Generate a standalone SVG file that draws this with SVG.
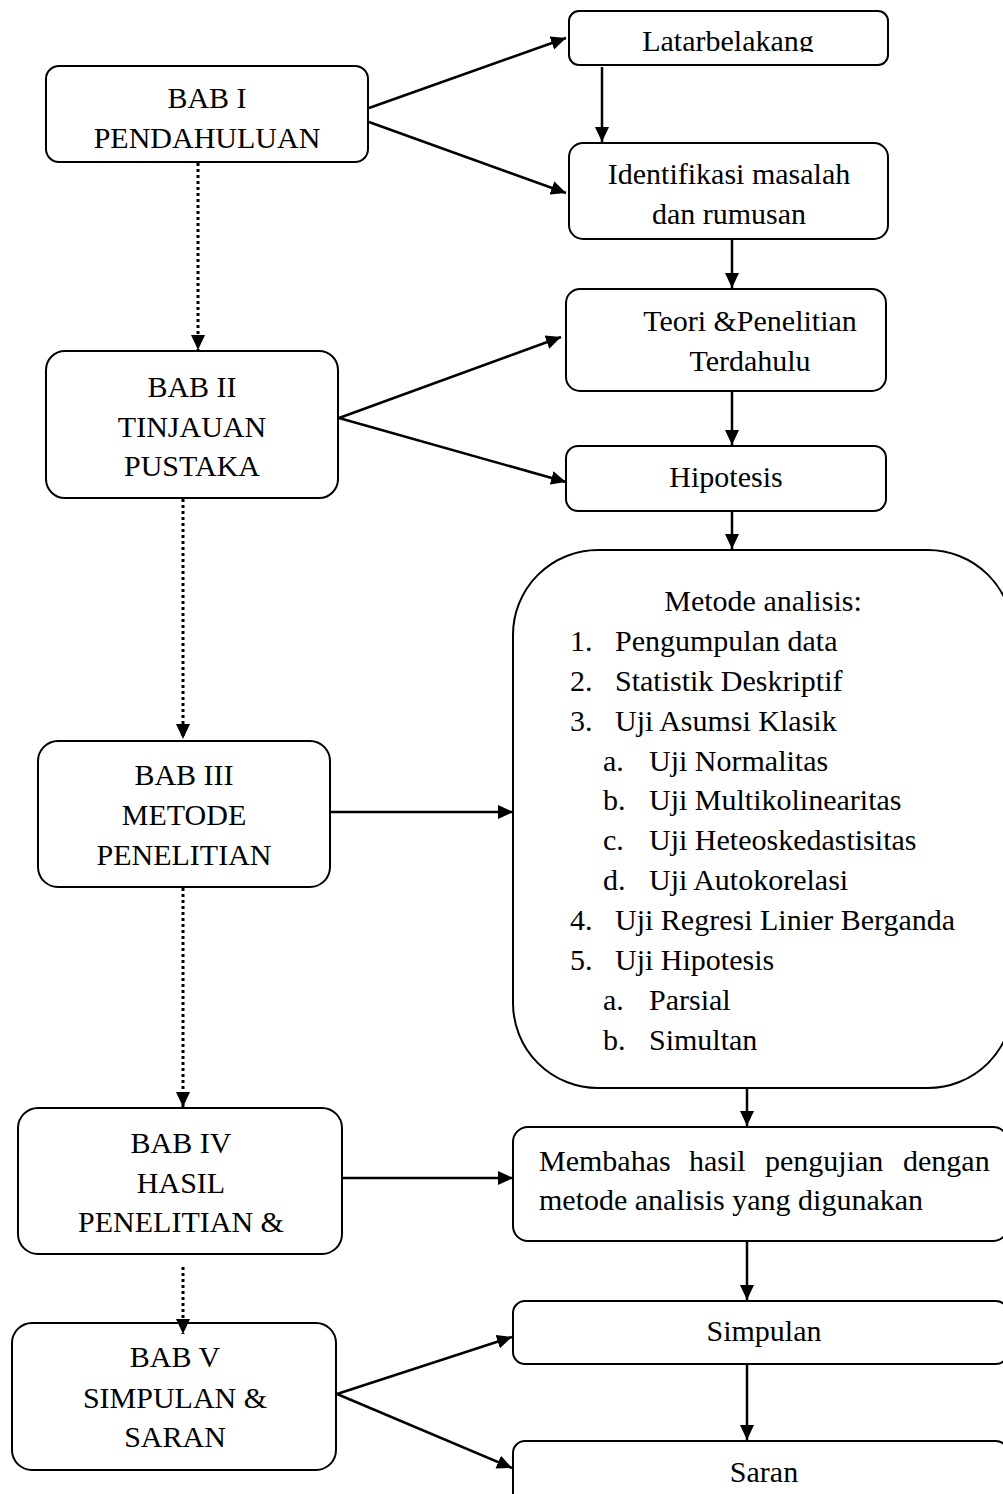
<svg xmlns="http://www.w3.org/2000/svg" width="1003" height="1494" viewBox="0 0 1003 1494">
<style>
.box{fill:#fff;stroke:#000;stroke-width:2}
.t{font-family:"Liberation Serif","Times New Roman",serif;font-size:30px;fill:#000}
.c{text-anchor:middle}
.ln{stroke:#000;stroke-width:2.5;fill:none}
.dot{stroke:#000;stroke-width:3;stroke-dasharray:3 3;fill:none}
</style>
<defs>
<marker id="ah" markerUnits="userSpaceOnUse" markerWidth="15" markerHeight="14" refX="15" refY="7" orient="auto">
<path d="M0,0 L15,7 L0,14 z" fill="#000"/>
</marker>
<clipPath id="latclip"><rect x="569" y="0" width="320" height="52"/></clipPath>
</defs>
<rect width="1003" height="1494" fill="#fff"/>

<g id="bab1">
<rect class="box" x="46" y="66" width="322" height="96" rx="13"/>
<text class="t c" x="207" y="108">BAB I</text>
<text class="t c" x="207" y="148">PENDAHULUAN</text>
</g>

<g id="latarbelakang">
<rect class="box" x="569" y="11" width="319" height="54" rx="10"/>
<text class="t c" x="728" y="51" clip-path="url(#latclip)">Latarbelakang</text>
</g>

<g id="identifikasi">
<rect class="box" x="569" y="143" width="319" height="96" rx="14"/>
<text class="t c" x="729" y="184">Identifikasi masalah</text>
<text class="t c" x="729" y="224">dan rumusan</text>
</g>

<g id="teori">
<rect class="box" x="566" y="289" width="320" height="102" rx="14"/>
<text class="t c" x="750" y="331">Teori &amp;Penelitian</text>
<text class="t c" x="750" y="371">Terdahulu</text>
</g>

<g id="bab2">
<rect class="box" x="46" y="351" width="292" height="147" rx="19"/>
<text class="t c" x="192" y="397">BAB II</text>
<text class="t c" x="192" y="437">TINJAUAN</text>
<text class="t c" x="192" y="476">PUSTAKA</text>
</g>

<g id="hipotesis">
<rect class="box" x="566" y="446" width="320" height="65" rx="12"/>
<text class="t c" x="726" y="487">Hipotesis</text>
</g>

<g id="metode">
<rect class="box" x="513" y="550" width="500" height="538" rx="85"/>
<text class="t c" x="763" y="611">Metode analisis:</text>
<text class="t" x="570" y="651">1.</text><text class="t" x="615" y="651">Pengumpulan data</text>
<text class="t" x="570" y="691">2.</text><text class="t" x="615" y="691">Statistik Deskriptif</text>
<text class="t" x="570" y="731">3.</text><text class="t" x="615" y="731">Uji Asumsi Klasik</text>
<text class="t" x="603" y="771">a.</text><text class="t" x="649" y="771">Uji Normalitas</text>
<text class="t" x="603" y="810">b.</text><text class="t" x="649" y="810">Uji Multikolinearitas</text>
<text class="t" x="603" y="850">c.</text><text class="t" x="649" y="850">Uji Heteoskedastisitas</text>
<text class="t" x="603" y="890">d.</text><text class="t" x="649" y="890">Uji Autokorelasi</text>
<text class="t" x="570" y="930">4.</text><text class="t" x="615" y="930">Uji Regresi Linier Berganda</text>
<text class="t" x="570" y="970">5.</text><text class="t" x="615" y="970">Uji Hipotesis</text>
<text class="t" x="603" y="1010">a.</text><text class="t" x="649" y="1010">Parsial</text>
<text class="t" x="603" y="1050">b.</text><text class="t" x="649" y="1050">Simultan</text>
</g>

<g id="bab3">
<rect class="box" x="38" y="741" width="292" height="146" rx="20"/>
<text class="t c" x="184" y="785">BAB III</text>
<text class="t c" x="184" y="825">METODE</text>
<text class="t c" x="184" y="865">PENELITIAN</text>
</g>

<g id="bab4">
<rect class="box" x="18" y="1108" width="324" height="146" rx="20"/>
<text class="t c" x="181" y="1153">BAB IV</text>
<text class="t c" x="181" y="1193">HASIL</text>
<text class="t c" x="181" y="1232">PENELITIAN &amp;</text>
</g>

<g id="membahas">
<rect class="box" x="513" y="1127" width="495" height="114" rx="15"/>
<text class="t" y="1171"><tspan x="539">Membahas</tspan><tspan x="689">hasil</tspan><tspan x="765">pengujian</tspan><tspan x="903">dengan</tspan></text>
<text class="t" x="539" y="1210">metode analisis yang digunakan</text>
</g>

<g id="simpulan">
<rect class="box" x="513" y="1301" width="495" height="63" rx="12"/>
<text class="t c" x="764" y="1341">Simpulan</text>
</g>

<g id="bab5">
<rect class="box" x="12" y="1323" width="324" height="147" rx="20"/>
<text class="t c" x="175" y="1367">BAB V</text>
<text class="t c" x="175" y="1408">SIMPULAN &amp;</text>
<text class="t c" x="175" y="1447">SARAN</text>
</g>

<g id="saran">
<rect class="box" x="513" y="1441" width="495" height="80" rx="12"/>
<text class="t c" x="764" y="1482">Saran</text>
</g>

<g id="connectors">
<line class="ln" x1="369" y1="108" x2="566" y2="38" marker-end="url(#ah)"/>
<line class="ln" x1="369" y1="122" x2="566" y2="193" marker-end="url(#ah)"/>
<line class="ln" x1="602" y1="67" x2="602" y2="142" marker-end="url(#ah)"/>
<line class="ln" x1="732" y1="240" x2="732" y2="288" marker-end="url(#ah)"/>
<line class="ln" x1="339" y1="418" x2="561" y2="337" marker-end="url(#ah)"/>
<line class="ln" x1="339" y1="418" x2="566" y2="482" marker-end="url(#ah)"/>
<line class="ln" x1="732" y1="392" x2="732" y2="445" marker-end="url(#ah)"/>
<line class="ln" x1="732" y1="512" x2="732" y2="549" marker-end="url(#ah)"/>
<line class="ln" x1="331" y1="812" x2="513" y2="812" marker-end="url(#ah)"/>
<line class="ln" x1="747" y1="1089" x2="747" y2="1126" marker-end="url(#ah)"/>
<line class="ln" x1="343" y1="1178" x2="513" y2="1178" marker-end="url(#ah)"/>
<line class="ln" x1="747" y1="1242" x2="747" y2="1300" marker-end="url(#ah)"/>
<line class="ln" x1="337" y1="1394" x2="512" y2="1337" marker-end="url(#ah)"/>
<line class="ln" x1="337" y1="1394" x2="512" y2="1468" marker-end="url(#ah)"/>
<line class="ln" x1="747" y1="1365" x2="747" y2="1440" marker-end="url(#ah)"/>
<line class="dot" x1="198" y1="163" x2="198" y2="350" marker-end="url(#ah)"/>
<line class="dot" x1="183" y1="499" x2="183" y2="739" marker-end="url(#ah)"/>
<line class="dot" x1="183" y1="888" x2="183" y2="1107" marker-end="url(#ah)"/>
<line class="dot" x1="183" y1="1267" x2="183" y2="1334" marker-end="url(#ah)"/>
</g>
</svg>
